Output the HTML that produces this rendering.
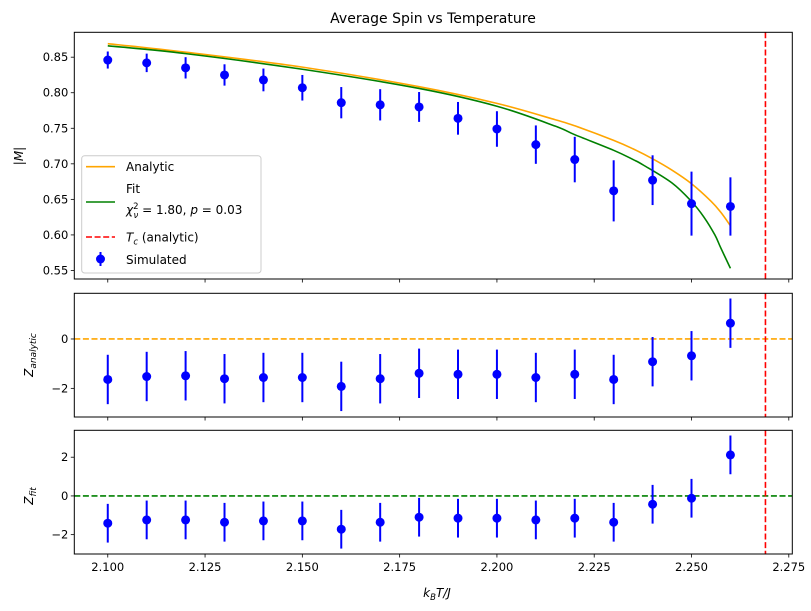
<!DOCTYPE html>
<html><head><meta charset="utf-8"><style>
html,body{margin:0;padding:0;background:#fff;}
svg{display:block;font-family:"DejaVu Sans","Liberation Sans",sans-serif;}
</style></head><body>
<svg id="chart" width="811" height="611" viewBox="0 0 811 611">
<rect width="811" height="611" fill="#fff"/>
<g id="g"></g>
<g font-family="DejaVu Sans, Liberation Sans, sans-serif" fill="#000">
<text x="433" y="23" font-size="14" text-anchor="middle">Average Spin vs Temperature</text>
<text x="437" y="597" font-size="12" text-anchor="middle" font-style="italic">k<tspan font-size="8.5" dy="3">B</tspan><tspan dy="-3">T/J</tspan></text>
<text transform="translate(23,156) rotate(-90)" font-size="12" text-anchor="middle" font-style="italic">|M|</text>
<text transform="translate(33,355) rotate(-90)" font-size="12" text-anchor="middle" font-style="italic">Z<tspan font-size="9" dy="3">analytic</tspan></text>
<text transform="translate(33,496) rotate(-90)" font-size="12" text-anchor="middle" font-style="italic">Z<tspan font-size="9" dy="3">fit</tspan></text>
</g>
<g font-family="DejaVu Sans, Liberation Sans, sans-serif" font-size="12" fill="#000">
<rect x="81.7" y="155.7" width="179.3" height="117.3" rx="3" fill="#fff" fill-opacity="0.85" stroke="#ccc" stroke-width="1"/>
<line x1="86" x2="115" y1="166.7" y2="166.7" stroke="#ffa500" stroke-width="1.6"/>
<text x="126" y="171">Analytic</text>
<line x1="86" x2="115" y1="202" y2="202" stroke="#008000" stroke-width="1.6"/>
<text x="126" y="193">Fit</text>
<text x="126" y="214"><tspan font-style="italic">χ</tspan><tspan font-size="8.5" dy="-5">2</tspan><tspan font-size="8.5" font-style="italic" dx="-5" dy="9">ν</tspan><tspan dy="-4"> = 1.80, </tspan><tspan font-style="italic">p</tspan><tspan> = 0.03</tspan></text>
<line x1="86" x2="115" y1="237" y2="237" stroke="#ff0000" stroke-width="1.6" stroke-dasharray="6,2.6"/>
<text x="126" y="241.5"><tspan font-style="italic">T</tspan><tspan font-size="8.5" font-style="italic" dy="3">c</tspan><tspan dy="-3"> (analytic)</tspan></text>
<line x1="100.5" x2="100.5" y1="252" y2="266" stroke="#0000ff" stroke-width="2"/>
<circle cx="100.5" cy="259" r="4.5" fill="#0000ff"/>
<text x="126" y="264">Simulated</text>
</g>
</svg>
<script>
const temps = [2.10,2.11,2.12,2.13,2.14,2.15,2.16,2.17,2.18,2.19,2.20,2.21,2.22,2.23,2.24,2.25,2.26];
const simM = [0.846,0.842,0.835,0.825,0.818,0.807,0.786,0.783,0.780,0.764,0.749,0.727,0.706,0.662,0.677,0.644,0.640];
const simErr = [0.012,0.013,0.015,0.015,0.016,0.018,0.022,0.022,0.021,0.023,0.025,0.027,0.032,0.043,0.035,0.045,0.041];
const analyticT = [2.10,2.12,2.15,2.18,2.20,2.215,2.22,2.23,2.235,2.24,2.245,2.25,2.255,2.2575,2.26];
const analyticM = [0.869,0.857,0.836,0.8085,0.785,0.762,0.7535,0.733,0.721,0.707,0.691,0.672,0.6475,0.632,0.613];
const fitT = [2.10,2.12,2.15,2.18,2.20,2.215,2.22,2.23,2.235,2.2377,2.245,2.25,2.2532,2.256,2.2575,2.26];
const fitM = [0.866,0.855,0.833,0.806,0.781,0.753,0.741,0.719,0.706,0.698,0.673,0.647,0.625,0.600,0.582,0.553];
const zAnalytic = [-1.64,-1.52,-1.49,-1.61,-1.56,-1.56,-1.92,-1.61,-1.39,-1.43,-1.43,-1.56,-1.43,-1.64,-0.92,-0.68,0.64];
const zFit = [-1.41,-1.24,-1.24,-1.36,-1.29,-1.29,-1.72,-1.36,-1.10,-1.15,-1.15,-1.24,-1.15,-1.36,-0.43,-0.12,2.12];
const zErr = 1;
const tc = 2.269;
const xTicks = [2.100,2.125,2.150,2.175,2.200,2.225,2.250,2.275];
const topTicks = [0.55,0.60,0.65,0.70,0.75,0.80,0.85];
const midTicks = [-2,0];
const botTicks = [-2,0,2];

const NS="http://www.w3.org/2000/svg";
const G=document.getElementById('g');
function el(tag,attrs,parent){const e=document.createElementNS(NS,tag);for(const k in attrs)e.setAttribute(k,attrs[k]);(parent||G).appendChild(e);return e;}
const L=74.3,R=792.3;
const X0=2.0914,X1=2.2759;
function xs(v){return L+(v-X0)/(X1-X0)*(R-L);}
const panels=[
 {name:'top-panel',top:32.3,bot:279,y0:0.538,y1:0.885},
 {name:'middle-panel',top:293.3,bot:417,y0:-3.16,y1:1.85},
 {name:'bottom-panel',top:430.3,bot:554,y0:-3.0,y1:3.39}
];
function ysF(p){return v=>p.bot-(v-p.y0)/(p.y1-p.y0)*(p.bot-p.top);}

function errorbars(p,vals,errs,name){
 const ys=ysF(p);
 const grp=el('g',{});
 
 
 temps.forEach((t,i)=>{
  const e=Array.isArray(errs)?errs[i]:errs;
  const ln=el('line',{x1:xs(t),x2:xs(t),y1:ys(vals[i]-e),y2:ys(vals[i]+e),stroke:'#0000ff','stroke-width':2},grp);
  
  
  const c=el('circle',{cx:xs(t),cy:ys(vals[i]),r:4.5,fill:'#0000ff'},grp);
  
  
 });
}
function line(p,tx,vals,color,name){
 const ys=ysF(p);
 const pts=tx.map((t,i)=>[xs(t),ys(vals[i])]);
 let d='M'+pts[0][0].toFixed(2)+','+pts[0][1].toFixed(2);
 for(let i=0;i<pts.length-1;i++){
  const p0=pts[Math.max(0,i-1)],p1=pts[i],p2=pts[i+1],p3=pts[Math.min(pts.length-1,i+2)];
  const c1=[p1[0]+(p2[0]-p0[0])/6,p1[1]+(p2[1]-p0[1])/6];
  const c2=[p2[0]-(p3[0]-p1[0])/6,p2[1]-(p3[1]-p1[1])/6];
  d+='C'+c1.map(v=>v.toFixed(2)).join(',')+' '+c2.map(v=>v.toFixed(2)).join(',')+' '+p2.map(v=>v.toFixed(2)).join(',');
 }
 const e=el('path',{d:d,fill:'none',stroke:color,'stroke-width':1.6});
 
 
}
function tcLine(p){
 const e=el('line',{x1:xs(tc),x2:xs(tc),y1:p.top,y2:p.bot,stroke:'#ff0000','stroke-width':1.6,'stroke-dasharray':'6,2.6'});
 
 
}
function hline(p,v,color,name){
 const ys=ysF(p);
 const e=el('line',{x1:L,x2:R,y1:ys(v),y2:ys(v),stroke:color,'stroke-width':1.6,'stroke-dasharray':'6,2.6'});
 
 
}
function axes(p,yt,fmt,showX){
 const ys=ysF(p);
 const f=el('rect',{x:L,y:p.top,width:R-L,height:p.bot-p.top,fill:'none',stroke:'#000','stroke-width':1});
 
 
 xTicks.forEach(t=>{
  const tk=el('line',{x1:xs(t),x2:xs(t),y1:p.bot,y2:p.bot+3.5,stroke:'#000','stroke-width':0.8});
  
  
  if(showX){
   const tx=el('text',{x:xs(t),y:p.bot+17,'font-size':11.5,'text-anchor':'middle',fill:'#000'});
   tx.textContent=t.toFixed(3);
   
   
  }
 });
 yt.forEach(v=>{
  const tk=el('line',{x1:L-3.5,x2:L,y1:ys(v),y2:ys(v),stroke:'#000','stroke-width':0.8});
  
  
  const tx=el('text',{x:L-6,y:ys(v)+4,'font-size':11.5,'text-anchor':'end',fill:'#000'});
  tx.textContent=fmt(v);
  
  
 });
}
const P0=panels[0],P1=panels[1],P2=panels[2];
line(P0,analyticT,analyticM,'#ffa500','analytic-curve');
line(P0,fitT,fitM,'#008000','fit-curve');
tcLine(P0);
errorbars(P0,simM,simErr,'simulated-series');
axes(P0,topTicks,v=>v.toFixed(2),false);

hline(P1,0,'#ffa500','zero-line-analytic');
tcLine(P1);
errorbars(P1,zAnalytic,zErr,'z-analytic-series');
axes(P1,midTicks,v=>(v<0?'\u2212':'')+Math.abs(v),false);

hline(P2,0,'#008000','zero-line-fit');
tcLine(P2);
errorbars(P2,zFit,zErr,'z-fit-series');
axes(P2,botTicks,v=>(v<0?'\u2212':'')+Math.abs(v),true);
</script>
</body></html>
